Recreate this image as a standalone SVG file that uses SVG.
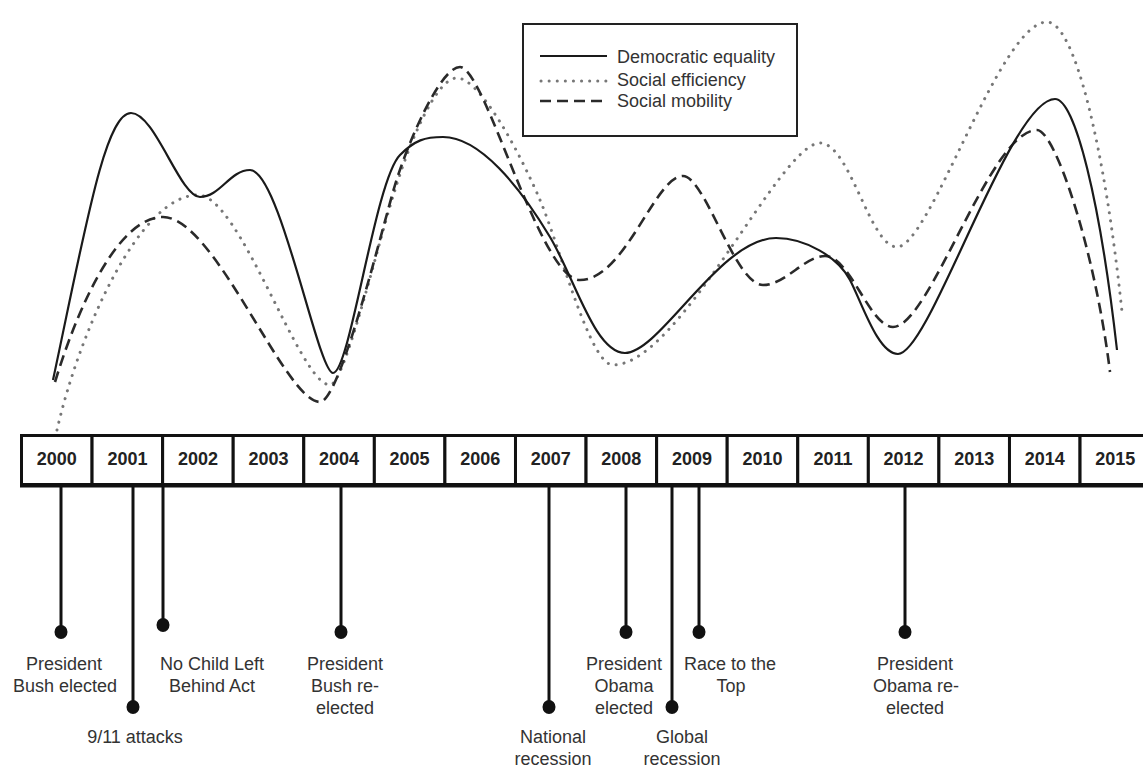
<svg xmlns="http://www.w3.org/2000/svg" width="1143" height="767" viewBox="0 0 1143 767">
<style>
.yr{fill:#fff;stroke:#111;stroke-width:3}
.yt{font-family:"Liberation Sans",Arial,sans-serif;font-weight:bold;font-size:18px;fill:#222;text-anchor:middle}
.lb{font-family:"Liberation Sans",Arial,sans-serif;font-size:18px;fill:#333;text-anchor:middle}
.lg{font-family:"Liberation Sans",Arial,sans-serif;font-size:18px;fill:#333}
.stem{stroke:#111;stroke-width:3;fill:none}
.dot{fill:#111}
.solid{fill:none;stroke:#1a1a1a;stroke-width:2.2}
.dotted{fill:none;stroke:#777;stroke-width:3;stroke-linecap:round;stroke-dasharray:0.1 8}
.dashed{fill:none;stroke:#2a2a2a;stroke-width:2.6;stroke-dasharray:11 6}
</style>
<rect width="1143" height="767" fill="#fff"/>

<g id="curves">
<path class="dotted" d="M57,430 C80,330 140,195 198,195 C240,195 300,385 330,385 C345,385 380,235 395,190 C407,150 435,78 457,78 C480,78 520,153 540,200 C560,247 590,365 613,365 C680,365 780,143 820,143 C850,143 870,247 897,247 C930,247 1000,22 1047,22 C1075,22 1105,150 1122,312"/>
<path class="dashed" d="M55,382 C80,300 120,217 163,217 C215,217 285,402 320,402 C340,402 383,225 395,185 C407,145 440,67 460,67 C485,67 540,280 580,280 C625,280 655,176 683,176 C705,176 735,285 763,285 C785,285 805,256 825,256 C850,256 870,327 893,327 C930,327 990,130 1037,130 C1055,130 1095,250 1110,372"/>
<path class="solid" d="M53,380 C85,230 105,113 131,113 C155,113 180,197 200,197 C220,197 230,170 250,170 C280,170 318,373 333,373 C350,373 375,180 400,155 C415,140 425,137 443,137 C480,137 520,187 550,237 C575,279 595,353 625,353 C660,353 720,238 776,238 C805,238 838,257 850,280 C862,303 878,354 898,354 C930,354 1010,99 1055,99 C1075,99 1100,200 1117,350"/>
</g>

<g id="legend">
<rect x="523" y="24" width="274" height="112" fill="#fff" stroke="#222" stroke-width="2"/>
<line x1="540" y1="56" x2="607" y2="56" class="solid"/>
<line x1="541" y1="81" x2="607" y2="81" class="dotted"/>
<line x1="540" y1="101" x2="607" y2="101" class="dashed"/>
<text class="lg" x="617" y="63">Democratic equality</text>
<text class="lg" x="617" y="86">Social efficiency</text>
<text class="lg" x="617" y="107">Social mobility</text>
</g>

<g id="timeline">
<g id="y2000"><rect class="yr" x="21.5" y="435.5" width="70.57" height="49"/><text class="yt" x="56.8" y="465">2000</text></g>
<g id="y2001"><rect class="yr" x="92.07" y="435.5" width="70.57" height="49"/><text class="yt" x="127.4" y="465">2001</text></g>
<g id="y2002"><rect class="yr" x="162.64" y="435.5" width="70.57" height="49"/><text class="yt" x="197.9" y="465">2002</text></g>
<g id="y2003"><rect class="yr" x="233.21" y="435.5" width="70.57" height="49"/><text class="yt" x="268.5" y="465">2003</text></g>
<g id="y2004"><rect class="yr" x="303.78" y="435.5" width="70.57" height="49"/><text class="yt" x="339.1" y="465">2004</text></g>
<g id="y2005"><rect class="yr" x="374.35" y="435.5" width="70.57" height="49"/><text class="yt" x="409.6" y="465">2005</text></g>
<g id="y2006"><rect class="yr" x="444.92" y="435.5" width="70.57" height="49"/><text class="yt" x="480.2" y="465">2006</text></g>
<g id="y2007"><rect class="yr" x="515.49" y="435.5" width="70.57" height="49"/><text class="yt" x="550.8" y="465">2007</text></g>
<g id="y2008"><rect class="yr" x="586.06" y="435.5" width="70.57" height="49"/><text class="yt" x="621.3" y="465">2008</text></g>
<g id="y2009"><rect class="yr" x="656.63" y="435.5" width="70.57" height="49"/><text class="yt" x="691.9" y="465">2009</text></g>
<g id="y2010"><rect class="yr" x="727.2" y="435.5" width="70.57" height="49"/><text class="yt" x="762.5" y="465">2010</text></g>
<g id="y2011"><rect class="yr" x="797.77" y="435.5" width="70.57" height="49"/><text class="yt" x="833.1" y="465">2011</text></g>
<g id="y2012"><rect class="yr" x="868.34" y="435.5" width="70.57" height="49"/><text class="yt" x="903.6" y="465">2012</text></g>
<g id="y2013"><rect class="yr" x="938.91" y="435.5" width="70.57" height="49"/><text class="yt" x="974.2" y="465">2013</text></g>
<g id="y2014"><rect class="yr" x="1009.48" y="435.5" width="70.57" height="49"/><text class="yt" x="1044.8" y="465">2014</text></g>
<g id="y2015"><rect class="yr" x="1080.05" y="435.5" width="70.57" height="49"/><text class="yt" x="1115.3" y="465">2015</text></g>
<line x1="20" y1="486" x2="1143" y2="486" stroke="#111" stroke-width="3"/>
</g>

<g id="connectors">
<line class="stem" x1="61" y1="486" x2="61" y2="632"/>
<line class="stem" x1="133" y1="486" x2="133" y2="707"/>
<line class="stem" x1="163" y1="486" x2="163" y2="625"/>
<line class="stem" x1="341" y1="486" x2="341" y2="632"/>
<line class="stem" x1="549" y1="486" x2="549" y2="707"/>
<line class="stem" x1="626" y1="486" x2="626" y2="632"/>
<line class="stem" x1="672" y1="486" x2="672" y2="707"/>
<line class="stem" x1="699" y1="486" x2="699" y2="632"/>
<line class="stem" x1="905" y1="486" x2="905" y2="632"/>
</g>

<g id="events">
<g id="ev-bush-elected"><ellipse class="dot" cx="61" cy="632" rx="6.5" ry="7"/><text class="lb" x="64" y="670">President</text><text class="lb" x="65" y="692">Bush elected</text></g>
<g id="ev-911"><ellipse class="dot" cx="133" cy="707" rx="6.5" ry="7"/><text class="lb" x="135" y="743">9/11 attacks</text></g>
<g id="ev-nclb"><ellipse class="dot" cx="163" cy="625" rx="6.5" ry="7"/><text class="lb" x="212" y="670">No Child Left</text><text class="lb" x="212" y="692">Behind Act</text></g>
<g id="ev-bush-reelected"><ellipse class="dot" cx="341" cy="632" rx="6.5" ry="7"/><text class="lb" x="345" y="670">President</text><text class="lb" x="345" y="692">Bush re-</text><text class="lb" x="345" y="714">elected</text></g>
<g id="ev-national-recession"><ellipse class="dot" cx="549" cy="707" rx="6.5" ry="7"/><text class="lb" x="553" y="743">National</text><text class="lb" x="553" y="765">recession</text></g>
<g id="ev-obama-elected"><ellipse class="dot" cx="626" cy="632" rx="6.5" ry="7"/><text class="lb" x="624" y="670">President</text><text class="lb" x="624" y="692">Obama</text><text class="lb" x="624" y="714">elected</text></g>
<g id="ev-global-recession"><ellipse class="dot" cx="672" cy="707" rx="6.5" ry="7"/><text class="lb" x="682" y="743">Global</text><text class="lb" x="682" y="765">recession</text></g>
<g id="ev-race"><ellipse class="dot" cx="699" cy="632" rx="6.5" ry="7"/><text class="lb" x="730" y="670">Race to the</text><text class="lb" x="731" y="692">Top</text></g>
<g id="ev-obama-reelected"><ellipse class="dot" cx="905" cy="632" rx="6.5" ry="7"/><text class="lb" x="915" y="670">President</text><text class="lb" x="916" y="692">Obama re-</text><text class="lb" x="915" y="714">elected</text></g>
</g>
</svg>
